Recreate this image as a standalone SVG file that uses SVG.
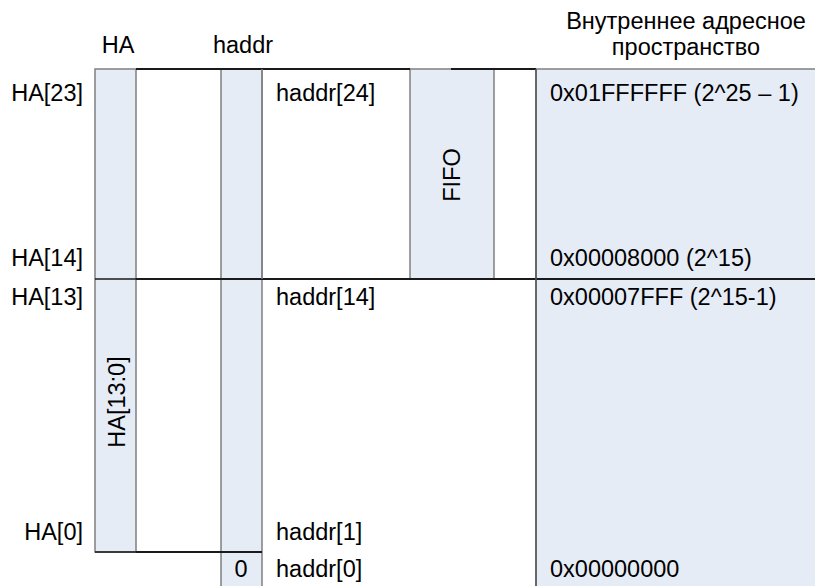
<svg xmlns="http://www.w3.org/2000/svg" width="815" height="586" viewBox="0 0 815 586">
<style>
.col{fill:#E6ECF6;stroke:#7F7F7F;stroke-width:1.5}
.blk{stroke:#1A1A1A;stroke-width:2;fill:none}
.thin{stroke:#1A1A1A;stroke-width:1.3;fill:none}
text{font-family:"Liberation Sans",Arial,sans-serif;font-size:23.5px;fill:#000}
.r{text-anchor:end}
.m{text-anchor:middle}
</style>
<rect x="0" y="0" width="815" height="586" fill="#fff"/>
<g id="addr-space">
<rect x="536" y="69" width="281" height="519" class="col"/>
</g>
<g id="ha-col">
<rect x="95" y="69" width="41" height="483" class="col"/>
<text transform="translate(125,402) rotate(-90)" class="m">HA[13:0]</text>
</g>
<g id="haddr-col">
<rect x="221" y="69" width="41" height="519" class="col"/>
<text x="241" y="577" class="m">0</text>
</g>
<g id="fifo">
<rect x="410" y="69" width="84" height="210" class="col"/>
<text transform="translate(460,175) rotate(-90)" class="m">FIFO</text>
</g>
<g id="connectors">
<line x1="136" y1="69" x2="410" y2="69" class="blk"/>
<line x1="451" y1="69" x2="536" y2="69" class="blk"/>
<line x1="136" y1="279" x2="815" y2="279" class="blk"/>
<line x1="95" y1="279" x2="136" y2="279" class="thin"/>
<line x1="136" y1="552" x2="262" y2="552" class="blk"/>
<line x1="95" y1="552" x2="136" y2="552" class="thin"/>
<line x1="262" y1="69" x2="262" y2="279" stroke="#7F7F7F" stroke-width="1.5"/>
<line x1="536" y1="69" x2="536" y2="586" stroke="#555" stroke-width="1.5"/>
</g>
<g id="labels">
<text x="118" y="53" class="m">HA</text>
<text x="243" y="53" class="m">haddr</text>
<text x="686" y="29" class="m">Внутреннее адресное</text>
<text x="686" y="55" class="m">пространство</text>
<text x="83" y="101" class="r">HA[23]</text>
<text x="83" y="266" class="r">HA[14]</text>
<text x="83" y="305" class="r">HA[13]</text>
<text x="83" y="540" class="r">HA[0]</text>
<text x="276" y="101">haddr[24]</text>
<text x="276" y="305">haddr[14]</text>
<text x="276" y="540">haddr[1]</text>
<text x="276" y="577">haddr[0]</text>
<text x="550" y="101">0x01FFFFFF (2^25 – 1)</text>
<text x="550" y="266">0x00008000 (2^15)</text>
<text x="550" y="305">0x00007FFF (2^15-1)</text>
<text x="550" y="577">0x00000000</text>
</g>
</svg>
